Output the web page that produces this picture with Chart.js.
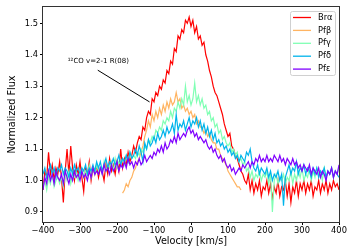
<!DOCTYPE html>
<html>
<head>
<meta charset="utf-8">
<script src="https://cdn.jsdelivr.net/npm/chart.js@4"></script>
<style>
  html, body { margin: 0; padding: 0; background: #fff; }
  #wrap { width: 350px; height: 250px; }
</style>
</head>
<body>
<div id="wrap"><canvas id="spectra" width="350" height="250"></canvas></div>
<script>
// velocity grid shared by most lines [km/s]
const velocity = [
  -400, -395, -390, -385, -380, -375, -370, -365, -360, -355,
  -350, -345, -340, -335, -330, -325, -320, -315, -310, -305,
  -300, -295, -290, -285, -280, -275, -270, -265, -260, -255,
  -250, -245, -240, -235, -230, -225, -220, -215, -210, -205,
  -200, -195, -190, -185, -180, -175, -170, -165, -160, -155,
  -150, -145, -140, -135, -130, -125, -120, -115, -110, -105,
  -100, -95, -90, -85, -80, -75, -70, -65, -60, -55,
  -50, -45, -40, -35, -30, -25, -20, -15, -10, -5,
  0, 5, 10, 15, 20, 25, 30, 35, 40, 45,
  50, 55, 60, 65, 70, 75, 80, 85, 90, 95,
  100, 105, 110, 115, 120, 125, 130, 135, 140, 145,
  150, 155, 160, 165, 170, 175, 180, 185, 190, 195,
  200, 205, 210, 215, 220, 225, 230, 235, 240, 245,
  250, 255, 260, 265, 270, 275, 280, 285, 290, 295,
  300, 305, 310, 315, 320, 325, 330, 335, 340, 345,
  350, 355, 360, 365, 370, 375, 380, 385, 390, 395, 400
];
// Pf-beta only covers a narrower window
const velocityPfb = [
  -185, -180, -175, -170, -165, -160, -155, -150, -145, -140,
  -135, -130, -125, -120, -115, -110, -105, -100, -95, -90,
  -85, -80, -75, -70, -65, -60, -55, -50, -45, -40,
  -35, -30, -25, -20, -15, -10, -5, 0, 5, 10,
  15, 20, 25, 30, 35, 40, 45, 50, 55, 60,
  65, 70, 75, 80, 85, 90, 95, 100, 105, 110,
  115, 120, 125, 130, 135
];

const fluxBra = [
  0.97, 1.03, 1.01, 1.09, 1.02, 1.05, 1.00, 1.04, 1.02, 1.06,
  1.01, 0.93, 1.03, 1.10, 1.02, 1.11, 1.04, 1.00, 1.05, 1.02,
  1.06, 1.01, 0.965, 1.04, 1.02, 1.06, 1.00, 1.04, 1.02, 1.05,
  1.01, 1.04, 1.03, 1.00, 1.05, 1.02, 1.07, 1.03, 1.05, 1.02,
  1.06, 1.03, 1.10, 1.04, 1.07, 1.05, 1.09, 1.06, 1.08, 1.11,
  1.09, 1.12, 1.14, 1.13, 1.17, 1.16, 1.20, 1.22, 1.21, 1.26,
  1.25, 1.28, 1.27, 1.30, 1.29, 1.32, 1.31, 1.35, 1.34, 1.38,
  1.37, 1.42, 1.41, 1.46, 1.45, 1.48, 1.47, 1.51, 1.50, 1.52,
  1.49, 1.51, 1.47, 1.49, 1.45, 1.46, 1.43, 1.44, 1.40, 1.38,
  1.35, 1.33, 1.30, 1.28, 1.27, 1.25, 1.23, 1.21, 1.18, 1.16,
  1.14, 1.15, 1.11, 1.10, 1.08, 1.07, 1.05, 1.03, 1.02, 1.00,
  0.99, 1.02, 0.97, 1.00, 0.96, 0.99, 0.97, 1.00, 0.95, 0.98,
  0.97, 1.00, 0.96, 0.99, 0.94, 0.98, 0.96, 1.00, 0.95, 0.98,
  0.97, 1.00, 0.95, 0.99, 0.93, 0.98, 0.96, 1.00, 0.95, 0.99,
  0.97, 1.00, 0.96, 0.99, 0.97, 1.00, 0.95, 0.98, 0.97, 1.00,
  0.96, 0.99, 0.97, 1.00, 0.96, 0.99, 0.97, 1.00, 0.98, 0.99, 0.97
];
const fluxPfb = [
  0.96, 0.97, 0.99, 0.98, 1.00, 1.01, 1.03, 1.04, 1.06, 1.07,
  1.09, 1.11, 1.14, 1.16, 1.19, 1.17, 1.21, 1.19, 1.22, 1.20,
  1.23, 1.21, 1.24, 1.22, 1.25, 1.23, 1.26, 1.24, 1.25, 1.28,
  1.25, 1.26, 1.23, 1.24, 1.22, 1.23, 1.21, 1.22, 1.20, 1.21,
  1.18, 1.19, 1.17, 1.17, 1.15, 1.16, 1.14, 1.15, 1.13, 1.12,
  1.12, 1.10, 1.10, 1.08, 1.07, 1.06, 1.05, 1.03, 1.02, 1.01,
  1.00, 0.99, 0.98, 0.98, 0.97
];
const fluxPfg = [
  0.98, 1.00, 0.97, 1.01, 0.99, 1.02, 0.98, 1.00, 1.01, 0.99,
  1.01, 0.98, 1.02, 1.00, 1.03, 0.99, 1.02, 1.01, 1.03, 1.00,
  1.02, 1.04, 1.01, 1.03, 1.02, 1.05, 1.01, 1.04, 1.02, 1.05,
  1.03, 1.04, 1.02, 1.06, 1.03, 1.05, 1.04, 1.06, 1.03, 1.07,
  1.04, 1.06, 1.05, 1.07, 1.05, 1.08, 1.06, 1.09, 1.07, 1.08,
  1.07, 1.09, 1.08, 1.10, 1.09, 1.11, 1.10, 1.13, 1.12, 1.14,
  1.13, 1.16, 1.15, 1.17, 1.16, 1.19, 1.18, 1.20, 1.19, 1.22,
  1.20, 1.23, 1.22, 1.25, 1.23, 1.26, 1.24, 1.30, 1.25, 1.27,
  1.24, 1.26, 1.31, 1.25, 1.27, 1.24, 1.26, 1.23, 1.24, 1.21,
  1.22, 1.19, 1.20, 1.17, 1.18, 1.15, 1.16, 1.13, 1.14, 1.12,
  1.11, 1.12, 1.09, 1.10, 1.08, 1.09, 1.06, 1.07, 1.05, 1.06,
  1.03, 1.04, 1.01, 1.03, 1.00, 1.02, 1.01, 1.03, 1.00, 1.02,
  1.01, 1.03, 0.99, 1.02, 0.90, 1.00, 1.02, 0.99, 1.01, 1.00,
  1.02, 0.99, 1.01, 1.00, 1.03, 0.99, 1.02, 1.00, 1.03, 1.01,
  1.04, 1.00, 1.02, 1.01, 1.04, 1.00, 1.03, 1.01, 1.04, 1.02,
  1.03, 1.00, 1.04, 1.01, 1.03, 1.02, 1.04, 1.01, 1.03, 1.02, 1.04
];
const fluxPfd = [
  1.02, 1.04, 1.01, 1.03, 1.05, 1.02, 1.04, 1.01, 1.04, 1.03,
  1.05, 1.02, 1.04, 1.03, 1.01, 1.04, 1.02, 1.05, 1.03, 1.04,
  1.02, 1.04, 1.03, 1.05, 1.02, 1.04, 1.03, 1.05, 1.03, 1.06,
  1.04, 1.06, 1.03, 1.05, 1.07, 1.04, 1.06, 1.05, 1.07, 1.05,
  1.06, 1.08, 1.05, 1.07, 1.06, 1.08, 1.06, 1.09, 1.07, 1.08,
  1.10, 1.08, 1.11, 1.09, 1.06, 1.12, 1.10, 1.13, 1.11, 1.12,
  1.14, 1.12, 1.15, 1.13, 1.14, 1.16, 1.14, 1.17, 1.15, 1.16,
  1.18, 1.15, 1.21, 1.16, 1.18, 1.17, 1.19, 1.16, 1.18, 1.20,
  1.17, 1.19, 1.18, 1.20, 1.17, 1.19, 1.16, 1.18, 1.15, 1.17,
  1.14, 1.16, 1.13, 1.15, 1.12, 1.13, 1.11, 1.12, 1.10, 1.11,
  1.09, 1.10, 1.08, 1.09, 1.07, 1.08, 1.06, 1.08, 1.07, 1.06,
  1.09, 1.08, 1.10, 1.06, 1.04, 1.03, 1.05, 1.02, 1.04, 1.03,
  1.02, 1.04, 1.01, 1.03, 1.00, 1.02, 1.01, 1.03, 1.00, 1.02,
  0.92, 1.01, 1.03, 1.05, 1.02, 1.04, 1.03, 1.06, 1.02, 1.04,
  1.03, 1.05, 1.02, 1.04, 1.03, 1.01, 1.04, 1.02, 1.04, 1.01,
  1.03, 1.02, 1.04, 1.01, 1.03, 1.02, 1.04, 1.01, 1.03, 1.02, 1.01
];
const fluxPfe = [
  0.97, 1.01, 0.99, 1.03, 1.00, 1.02, 0.99, 1.03, 1.01, 1.00,
  1.02, 0.99, 1.03, 1.01, 0.99, 1.02, 1.00, 1.03, 1.01, 1.02,
  1.00, 1.03, 1.01, 1.02, 1.00, 1.03, 1.01, 1.04, 1.02, 1.03,
  1.02, 1.04, 1.02, 1.05, 1.03, 1.04, 1.02, 1.05, 1.03, 1.04,
  1.06, 1.03, 1.05, 1.04, 1.06, 1.04, 1.07, 1.05, 1.06, 1.04,
  1.06, 1.05, 1.07, 1.05, 1.06, 1.08, 1.06, 1.07, 1.08, 1.07,
  1.09, 1.08, 1.10, 1.09, 1.11, 1.09, 1.12, 1.10, 1.11, 1.13,
  1.12, 1.14, 1.12, 1.15, 1.13, 1.14, 1.15, 1.14, 1.16, 1.17,
  1.15, 1.16, 1.14, 1.15, 1.13, 1.14, 1.13, 1.12, 1.13, 1.11,
  1.10, 1.11, 1.09, 1.10, 1.08, 1.07, 1.08, 1.06, 1.07, 1.05,
  1.04, 1.05, 1.03, 1.04, 1.02, 1.03, 1.04, 1.03, 1.05, 1.04,
  1.05, 1.06, 1.04, 1.06, 1.05, 1.07, 1.06, 1.08, 1.06, 1.07,
  1.06, 1.08, 1.06, 1.07, 1.06, 1.08, 1.07, 1.06, 1.08, 1.06,
  1.07, 1.05, 1.07, 1.06, 1.05, 1.07, 1.05, 1.06, 1.04, 1.05,
  1.03, 1.05, 1.04, 1.03, 1.05, 1.02, 1.04, 1.03, 1.02, 1.04,
  1.01, 1.03, 1.02, 1.00, 1.03, 1.02, 1.04, 1.01, 1.03, 1.02, 1.05
];

const xTicks = [-400, -300, -200, -100, 0, 100, 200, 300, 400];
const yTicks = [0.9, 1.0, 1.1, 1.2, 1.3, 1.4, 1.5];

const FONT = "'DejaVu Sans', sans-serif";

function pairs(xs, ys) {
  return xs.map((x, i) => ({ x: x, y: ys[i] }));
}

function minusSign(v) {
  return String(v).replace('-', '\u2212');
}

// matplotlib draws later lines on top; Chart.js puts dataset 0 on top,
// so the list runs from the top-most line down
const datasets = [
  { label: 'Pf\u03b5', data: pairs(velocity, fluxPfe), borderColor: '#8000ff' },
  { label: 'Pf\u03b4', data: pairs(velocity, fluxPfd), borderColor: '#00b4eb' },
  { label: 'Pf\u03b3', data: pairs(velocity, fluxPfg), borderColor: '#80ffb4' },
  { label: 'Pf\u03b2', data: pairs(velocityPfb, fluxPfb), borderColor: '#ffb462' },
  { label: 'Br\u03b1', data: pairs(velocity, fluxBra), borderColor: '#ff0000' },
];

const frame = {
  id: 'frame',
  afterDraw(chart) {
    const { ctx, chartArea: a } = chart;
    ctx.save();
    ctx.strokeStyle = '#333';
    ctx.lineWidth = 1;
    ctx.strokeRect(a.left - 0.5, a.top - 0.5, a.right - a.left + 1, a.bottom - a.top + 1);
    ctx.restore();
  }
};

const annotation = {
  id: 'annotation',
  afterDatasetsDraw(chart) {
    const { ctx, scales: { x, y } } = chart;
    ctx.save();
    ctx.strokeStyle = '#000';
    ctx.lineWidth = 1;
    ctx.beginPath();
    ctx.moveTo(x.getPixelForValue(-252), y.getPixelForValue(1.351));
    ctx.lineTo(x.getPixelForValue(-112), y.getPixelForValue(1.25));
    ctx.stroke();
    ctx.fillStyle = '#000';
    ctx.font = '7px ' + FONT;
    ctx.textBaseline = 'middle';
    ctx.textAlign = 'left';
    ctx.fillText('\u00b9\u00b2CO v=2-1 R(08)', x.getPixelForValue(-333), y.getPixelForValue(1.38));
    ctx.restore();
  }
};

const legendBox = {
  id: 'legendBox',
  afterDraw(chart) {
    const { ctx, chartArea: a } = chart;
    const items = chart.data.datasets.slice().reverse();
    const w = 45, h = 64;
    const left = a.right - 4 - w, top = a.top + 4;
    ctx.save();
    ctx.fillStyle = 'rgba(255,255,255,0.8)';
    ctx.strokeStyle = '#d0d0d0';
    ctx.lineWidth = 1;
    ctx.beginPath();
    ctx.roundRect(left + 0.5, top + 0.5, w, h, 2);
    ctx.fill();
    ctx.stroke();
    ctx.font = '8.3px ' + FONT;
    ctx.textBaseline = 'middle';
    ctx.textAlign = 'left';
    items.forEach((ds, i) => {
      const cy = top + 6.5 + i * 12.9;
      ctx.strokeStyle = ds.borderColor;
      ctx.lineWidth = 1.3;
      ctx.beginPath();
      ctx.moveTo(left + 3, cy);
      ctx.lineTo(left + 21, cy);
      ctx.stroke();
      ctx.fillStyle = '#000';
      ctx.fillText(ds.label, left + 28, cy);
    });
    ctx.restore();
  }
};

new Chart(document.getElementById('spectra').getContext('2d'), {
  type: 'line',
  data: {
    datasets: datasets.map(d => Object.assign({
      borderWidth: 1.2,
      pointRadius: 0,
      tension: 0,
      fill: false,
    }, d))
  },
  options: {
    responsive: false,
    animation: false,
    devicePixelRatio: 1,
    layout: { padding: { top: 7, right: 11, left: 0, bottom: 0 } },
    plugins: {
      legend: { display: false },
      tooltip: { enabled: false },
    },
    scales: {
      x: {
        type: 'linear',
        min: -400,
        max: 400,
        afterBuildTicks: s => { s.ticks = xTicks.map(v => ({ value: v })); },
        afterFit: s => { s.height = 28; },
        grid: { drawOnChartArea: false, drawTicks: true, tickLength: 3, color: '#000', lineWidth: 1 },
        border: { display: false },
        ticks: {
          padding: 1,
          color: '#000',
          font: { family: FONT, size: 8.3 },
          maxRotation: 0,
          callback: v => minusSign(v),
        },
        title: {
          display: true,
          text: 'Velocity [km/s]',
          color: '#000',
          font: { family: FONT, size: 9.7 },
          padding: { top: 0, bottom: 2.5 },
        },
      },
      y: {
        type: 'linear',
        min: 0.868,
        max: 1.552,
        afterBuildTicks: s => { s.ticks = yTicks.map(v => ({ value: v })); },
        afterFit: s => { s.width = 43; },
        grid: { drawOnChartArea: false, drawTicks: true, tickLength: 3, color: '#000', lineWidth: 1 },
        border: { display: false },
        ticks: {
          padding: 2,
          color: '#000',
          font: { family: FONT, size: 8.3 },
          callback: v => v.toFixed(1),
        },
        title: {
          display: true,
          text: 'Normalized Flux',
          color: '#000',
          font: { family: FONT, size: 9.7 },
          padding: { top: 7, bottom: 0 },
        },
      },
    },
  },
  plugins: [frame, annotation, legendBox],
});
</script>
</body>
</html>
